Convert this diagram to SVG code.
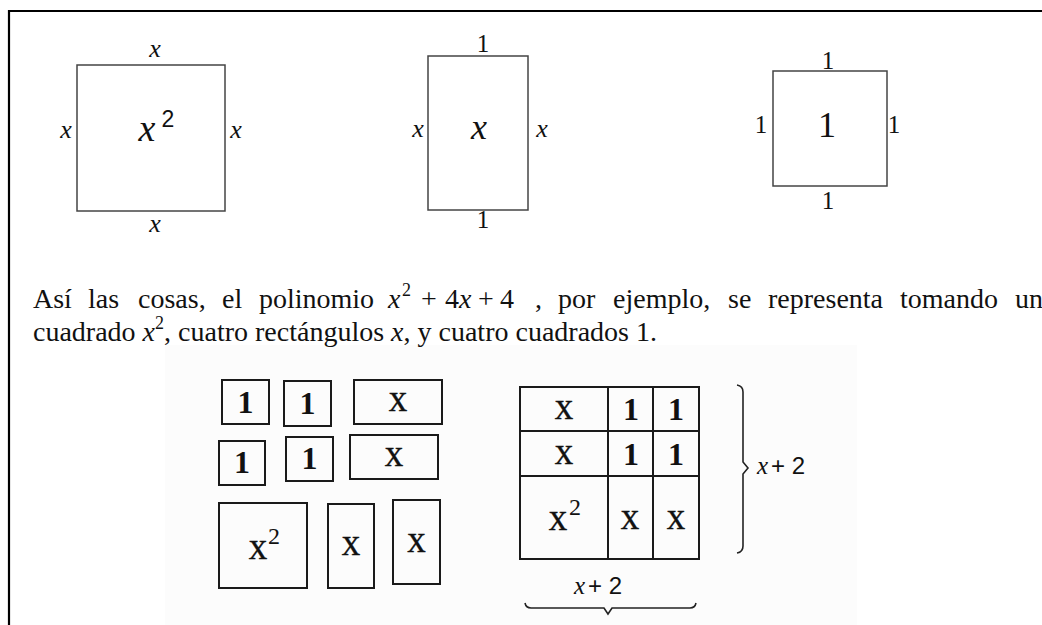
<svg xmlns="http://www.w3.org/2000/svg" width="1042" height="625" viewBox="0 0 1042 625">
<style>
.thin{fill:none;stroke:#444;stroke-width:1.5}
.tile{fill:none;stroke:#1a1a1a;stroke-width:2}
.lbl{font-family:"Liberation Serif",serif;font-style:italic;font-size:26px;fill:#111;text-anchor:middle}
.num{font-family:"Liberation Serif",serif;font-size:25px;fill:#111;text-anchor:middle}
.body{font-family:"Liberation Serif",serif;font-size:28px;fill:#111}
.it{font-style:italic}
.one{font-family:"Liberation Serif",serif;font-weight:bold;font-size:32px;fill:#111;text-anchor:middle}
.ex{font-family:"Liberation Serif",serif;font-size:37px;fill:#111;stroke:#111;stroke-width:0.35;text-anchor:middle}
.sup{font-family:"Liberation Serif",serif;font-size:24px;fill:#111}
.brace{fill:none;stroke:#222;stroke-width:1.6}
.xl{font-family:"Liberation Serif",serif;font-style:italic;font-size:25px;fill:#111}
.pl{font-family:"Liberation Sans",sans-serif;font-size:24px;fill:#111}
</style>
<rect width="1042" height="625" fill="#fff"/>
<rect x="165" y="345" width="692" height="280" fill="#fcfcfc"/>
<path d="M9,625 V11 H1042" fill="none" stroke="#000" stroke-width="2.2"/>

<g id="square-x2">
<rect class="thin" x="77" y="65" width="148" height="146"/>
<text class="lbl" x="155" y="57">x</text>
<text class="lbl" x="66" y="138">x</text>
<text class="lbl" x="236" y="138">x</text>
<text class="lbl" x="155" y="232">x</text>
<text class="lbl" x="147" y="141" style="font-size:38px">x</text>
<text class="num" x="168" y="127" style="font-size:23px;font-family:'Liberation Sans',sans-serif">2</text>
</g>

<g id="rect-x">
<rect class="thin" x="428" y="56" width="100" height="154"/>
<text class="num" x="483" y="52">1</text>
<text class="lbl" x="418" y="137">x</text>
<text class="lbl" x="542" y="137">x</text>
<text class="lbl" x="479" y="139" style="font-size:36px">x</text>
<text class="num" x="483" y="228">1</text>
</g>

<g id="square-1">
<rect class="thin" x="773" y="71" width="114" height="115"/>
<text class="num" x="828" y="69">1</text>
<text class="num" x="761" y="133">1</text>
<text class="num" x="894" y="133">1</text>
<text class="num" x="827" y="137" style="font-size:36px">1</text>
<text class="num" x="828" y="209">1</text>
</g>

<g id="paragraph">
<text class="body" y="308">
<tspan x="33">Así</tspan><tspan x="88">las</tspan><tspan x="138">cosas,</tspan><tspan x="222">el</tspan><tspan x="259">polinomio</tspan>
<tspan x="388" class="it">x</tspan><tspan x="402" y="296" style="font-size:18px">2</tspan><tspan x="421" y="308">+</tspan><tspan x="445">4</tspan><tspan class="it">x</tspan><tspan x="478">+</tspan><tspan x="500">4</tspan><tspan x="535">,</tspan>
<tspan x="558">por</tspan><tspan x="613">ejemplo,</tspan><tspan x="728">se</tspan><tspan x="768">representa</tspan><tspan x="900">tomando</tspan><tspan x="1015">un</tspan>
</text>
<text class="body" y="341" x="33">cuadrado <tspan class="it">x</tspan><tspan dy="-12" style="font-size:18px">2</tspan><tspan dy="12">, cuatro rectángulos </tspan><tspan class="it">x</tspan>, y cuatro cuadrados 1.</text>
</g>

<g id="tiles">
<g id="tile-1a"><rect class="tile" x="222" y="380" width="47" height="44"/><text class="one" x="245.5" y="413">1</text></g>
<g id="tile-1b"><rect class="tile" x="284" y="381" width="47" height="45"/><text class="one" x="307.5" y="414">1</text></g>
<g id="tile-xa"><rect class="tile" x="354" y="380" width="88" height="44"/><text class="ex" x="398" y="411">x</text></g>
<g id="tile-1c"><rect class="tile" x="219" y="441" width="46" height="44"/><text class="one" x="242" y="473">1</text></g>
<g id="tile-1d"><rect class="tile" x="286" y="437" width="47" height="44"/><text class="one" x="309.5" y="469">1</text></g>
<g id="tile-xb"><rect class="tile" x="350" y="435" width="88" height="44"/><text class="ex" x="394" y="466">x</text></g>
<g id="tile-x2"><rect class="tile" x="219" y="503" width="88" height="85"/><text class="ex" x="258" y="559">x</text><text class="sup" x="268" y="544">2</text></g>
<g id="tile-xc"><rect class="tile" x="328" y="504" width="46" height="84"/><text class="ex" x="351" y="555">x</text></g>
<g id="tile-xd"><rect class="tile" x="393" y="500" width="47" height="84"/><text class="ex" x="416.5" y="552">x</text></g>
</g>

<g id="grid">
<rect class="tile" x="520" y="387" width="179" height="172"/>
<path class="tile" d="M608,387 V559 M653,387 V559 M520,431 H699 M520,476 H699"/>
<text class="ex" x="564" y="419">x</text>
<text class="one" x="631" y="420">1</text>
<text class="one" x="676" y="420">1</text>
<text class="ex" x="564" y="464">x</text>
<text class="one" x="631" y="465">1</text>
<text class="one" x="676" y="465">1</text>
<text class="ex" x="558" y="530">x</text><text class="sup" x="569" y="515">2</text>
<text class="ex" x="630" y="529">x</text>
<text class="ex" x="676" y="529">x</text>
</g>

<g id="connectors">
<path class="brace" d="M737,385 Q743,386 743,392 V462 L748,468 L743,474 V546 Q743,552 737,553"/>
<path class="brace" d="M525,603 Q526,608 531,608 H604 L608,614 L612,608 H690 Q695,608 696,603"/>
</g>

<g id="labels">
<text x="757" y="474"><tspan class="xl">x</tspan><tspan class="pl" dx="3">+ 2</tspan></text>
<text x="574" y="594"><tspan class="xl">x</tspan><tspan class="pl" dx="3">+ 2</tspan></text>
</g>
</svg>
